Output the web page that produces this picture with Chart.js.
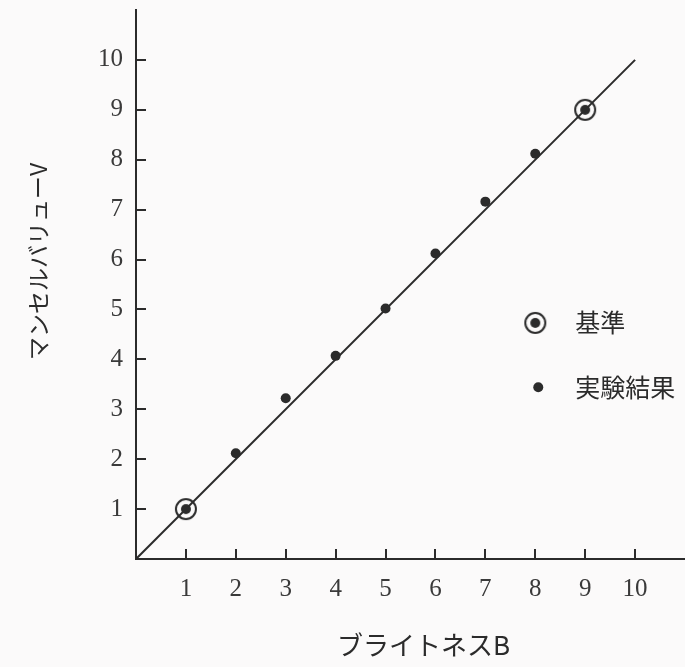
<!DOCTYPE html>
<html>
<head>
<meta charset="utf-8">
<script src="https://cdn.jsdelivr.net/npm/chart.js@4"></script>
<style>
  html, body { margin: 0; padding: 0; background: #fbfafa; overflow: hidden; width: 685px; height: 667px; }
  #wrap { width: 685px; height: 667px; position: relative; overflow: hidden; }
</style>
</head>
<body>
<div id="wrap"><canvas id="c"></canvas></div>
<script>
// ---- data ----
const expX = [2, 3, 4, 5, 6, 7, 8];
const expY = [2.12, 3.22, 4.07, 5.02, 6.12, 7.16, 8.12];
const refX = [1, 9];
const refY = [1, 9];
const lineX = [0, 10];
const lineY = [0, 10];
const xTickLabels = ['1','2','3','4','5','6','7','8','9','10'];
const yTickLabels = ['1','2','3','4','5','6','7','8','9','10'];
const seriesLabels = ['基準', '実験結果'];
const xTitle = 'ブライトネスB';
const yTitle = 'マンセルバリューV';

const INK = '#2b2b2b';
const TXT = '#3a3a3a';

// ring-with-dot symbol
function makeRefSymbol() {
  const c = document.createElement('canvas');
  c.width = 26; c.height = 26;
  const g = c.getContext('2d');
  g.strokeStyle = INK; g.lineWidth = 2;
  g.beginPath(); g.arc(13, 13, 10, 0, Math.PI * 2); g.stroke();
  g.fillStyle = INK;
  g.beginPath(); g.arc(13, 13, 5, 0, Math.PI * 2); g.fill();
  return c;
}
const refSymbol = makeRefSymbol();

const toPts = (xs, ys) => xs.map((x, i) => ({ x: x, y: ys[i] }));

// inward tick marks
const innerTicks = {
  id: 'innerTicks',
  afterDraw(chart) {
    const { ctx, scales: { x, y } } = chart;
    ctx.save();
    ctx.strokeStyle = INK; ctx.lineWidth = 2;
    x.ticks.forEach(t => {
      if (t.value < 1 || t.value > 10) return;
      const px = Math.round(x.getPixelForValue(t.value));
      ctx.beginPath(); ctx.moveTo(px, y.bottom); ctx.lineTo(px, y.bottom - 10); ctx.stroke();
    });
    y.ticks.forEach(t => {
      if (t.value < 1 || t.value > 10) return;
      const py = Math.round(y.getPixelForValue(t.value));
      ctx.beginPath(); ctx.moveTo(x.left, py); ctx.lineTo(x.left + 10, py); ctx.stroke();
    });
    ctx.restore();
  }
};

// legend inside plot area
const innerLegend = {
  id: 'innerLegend',
  afterDraw(chart) {
    const { ctx, scales: { x, y } } = chart;
    const ds = chart.data.datasets;
    ctx.save();
    ctx.font = '25px "Noto Sans CJK JP"';
    ctx.fillStyle = INK;
    ctx.textBaseline = 'middle';
    ctx.textAlign = 'left';
    const tx = x.getPixelForValue(8.8);
    const sx1 = x.getPixelForValue(8.0), sy1 = y.getPixelForValue(4.73);
    ctx.drawImage(refSymbol, sx1 - 13, sy1 - 13);
    ctx.fillText(ds[1].label, tx, sy1);
    const sx2 = x.getPixelForValue(8.06), sy2 = y.getPixelForValue(3.44);
    ctx.beginPath(); ctx.arc(sx2, sy2, 5, 0, Math.PI * 2); ctx.fill();
    ctx.fillText(ds[2].label, tx, sy2);
    ctx.restore();
  }
};

const tickFont = { family: '"Liberation Serif", serif', size: 25 };
const hiddenGrid = (len) => ({
  display: true, drawOnChartArea: false, drawTicks: true,
  tickLength: len, color: 'rgba(0,0,0,0)', tickColor: 'rgba(0,0,0,0)'
});

new Chart(document.getElementById('c'), {
  type: 'scatter',
  data: {
    datasets: [
      {
        type: 'line', label: 'line', data: toPts(lineX, lineY),
        borderColor: INK, borderWidth: 2, pointRadius: 0, fill: false, order: 3
      },
      {
        label: seriesLabels[0], data: toPts(refX, refY),
        pointStyle: refSymbol, pointRadius: 13, order: 1
      },
      {
        label: seriesLabels[1], data: toPts(expX, expY),
        pointStyle: 'circle', pointRadius: 5, backgroundColor: INK, borderWidth: 0, order: 2
      }
    ]
  },
  options: {
    responsive: true,
    maintainAspectRatio: false,
    animation: false,
    layout: { autoPadding: false, padding: { top: 10, right: 0, left: 0, bottom: 0 } },
    plugins: { legend: { display: false }, tooltip: { enabled: false } },
    scales: {
      x: {
        type: 'linear', min: 0, max: 11,
        grid: hiddenGrid(15),
        border: { display: true, color: INK, width: 2 },
        ticks: {
          stepSize: 1, autoSkip: false, maxRotation: 0, padding: 0,
          color: TXT, font: tickFont,
          callback: v => (v >= 1 && v <= 10) ? xTickLabels[v - 1] : ''
        },
        title: {
          display: true, text: '\u3000' + xTitle, color: INK,
          font: { family: '"Noto Sans CJK JP"', size: 26 },
          padding: { top: 0, bottom: 6 }
        },
        afterFit(s) { s.height = 108; s.paddingLeft = 0; s.paddingRight = 0; }
      },
      y: {
        type: 'linear', min: 0, max: 11,
        grid: hiddenGrid(13),
        border: { display: true, color: INK, width: 2 },
        ticks: {
          stepSize: 1, autoSkip: false, padding: 0,
          color: TXT, font: tickFont,
          callback: v => (v >= 1 && v <= 10) ? yTickLabels[v - 1] : ''
        },
        title: {
          display: true, text: '\u3000\u3000' + yTitle, color: INK,
          font: { family: '"Noto Sans CJK JP"', size: 23 },
          padding: { top: 24, bottom: 0 }
        },
        afterFit(s) { s.width = 136; s.paddingTop = 0; s.paddingBottom = 0; }
      }
    }
  },
  plugins: [innerTicks, innerLegend]
});
</script>
</body>
</html>
